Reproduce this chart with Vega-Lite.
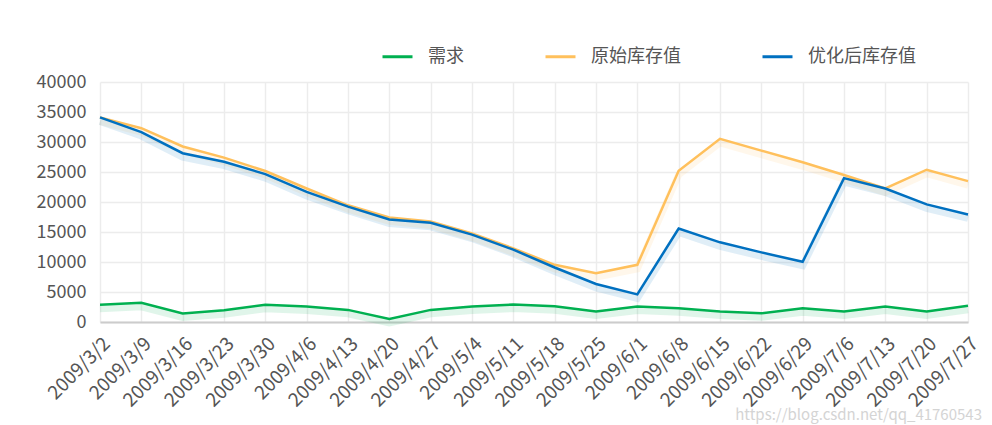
{
  "$schema": "https://vega.github.io/schema/vega-lite/v6.json",
  "width": 868,
  "height": 240,
  "autosize": "none",
  "padding": {"left": 100, "top": 82, "right": 24, "bottom": 103},
  "background": "#ffffff",
  "config": {
    "view": {"stroke": null},
    "font": "Noto Sans CJK SC"
  },
  "title": {
    "text": "https://blog.csdn.net/qq_41760543",
    "orient": "bottom",
    "anchor": "end",
    "fontSize": 15,
    "fontWeight": "normal",
    "color": "#d4d4d4",
    "offset": -2
  },
  "data": {
    "values": [
      {"date": "2009/3/2", "series": "需求", "value": 2860},
      {"date": "2009/3/9", "series": "需求", "value": 3190},
      {"date": "2009/3/16", "series": "需求", "value": 1410},
      {"date": "2009/3/23", "series": "需求", "value": 1970},
      {"date": "2009/3/30", "series": "需求", "value": 2860},
      {"date": "2009/4/6", "series": "需求", "value": 2580},
      {"date": "2009/4/13", "series": "需求", "value": 2020},
      {"date": "2009/4/20", "series": "需求", "value": 500},
      {"date": "2009/4/27", "series": "需求", "value": 2020},
      {"date": "2009/5/4", "series": "需求", "value": 2580},
      {"date": "2009/5/11", "series": "需求", "value": 2920},
      {"date": "2009/5/18", "series": "需求", "value": 2640},
      {"date": "2009/5/25", "series": "需求", "value": 1750},
      {"date": "2009/6/1", "series": "需求", "value": 2580},
      {"date": "2009/6/8", "series": "需求", "value": 2300},
      {"date": "2009/6/15", "series": "需求", "value": 1750},
      {"date": "2009/6/22", "series": "需求", "value": 1460},
      {"date": "2009/6/29", "series": "需求", "value": 2300},
      {"date": "2009/7/6", "series": "需求", "value": 1750},
      {"date": "2009/7/13", "series": "需求", "value": 2580},
      {"date": "2009/7/20", "series": "需求", "value": 1750},
      {"date": "2009/7/27", "series": "需求", "value": 2690},
      {"date": "2009/3/2", "series": "原始库存值", "value": 34100},
      {"date": "2009/3/9", "series": "原始库存值", "value": 32300},
      {"date": "2009/3/16", "series": "原始库存值", "value": 29250},
      {"date": "2009/3/23", "series": "原始库存值", "value": 27400},
      {"date": "2009/3/30", "series": "原始库存值", "value": 25160},
      {"date": "2009/4/6", "series": "原始库存值", "value": 22250},
      {"date": "2009/4/13", "series": "原始库存值", "value": 19450},
      {"date": "2009/4/20", "series": "原始库存值", "value": 17430},
      {"date": "2009/4/27", "series": "原始库存值", "value": 16760},
      {"date": "2009/5/4", "series": "原始库存值", "value": 14740},
      {"date": "2009/5/11", "series": "原始库存值", "value": 12270},
      {"date": "2009/5/18", "series": "原始库存值", "value": 9530},
      {"date": "2009/5/25", "series": "原始库存值", "value": 8130},
      {"date": "2009/6/1", "series": "原始库存值", "value": 9530},
      {"date": "2009/6/8", "series": "原始库存值", "value": 25210},
      {"date": "2009/6/15", "series": "原始库存值", "value": 30540},
      {"date": "2009/6/22", "series": "原始库存值", "value": 28570},
      {"date": "2009/6/29", "series": "原始库存值", "value": 26620},
      {"date": "2009/7/6", "series": "原始库存值", "value": 24490},
      {"date": "2009/7/13", "series": "原始库存值", "value": 22250},
      {"date": "2009/7/20", "series": "原始库存值", "value": 25380},
      {"date": "2009/7/27", "series": "原始库存值", "value": 23480},
      {"date": "2009/3/2", "series": "优化后库存值", "value": 34100},
      {"date": "2009/3/9", "series": "优化后库存值", "value": 31660},
      {"date": "2009/3/16", "series": "优化后库存值", "value": 28130},
      {"date": "2009/3/23", "series": "优化后库存值", "value": 26720},
      {"date": "2009/3/30", "series": "优化后库存值", "value": 24650},
      {"date": "2009/4/6", "series": "优化后库存值", "value": 21680},
      {"date": "2009/4/13", "series": "优化后库存值", "value": 19220},
      {"date": "2009/4/20", "series": "优化后库存值", "value": 17090},
      {"date": "2009/4/27", "series": "优化后库存值", "value": 16540},
      {"date": "2009/5/4", "series": "优化后库存值", "value": 14570},
      {"date": "2009/5/11", "series": "优化后库存值", "value": 12050},
      {"date": "2009/5/18", "series": "优化后库存值", "value": 9080},
      {"date": "2009/5/25", "series": "优化后库存值", "value": 6340},
      {"date": "2009/6/1", "series": "优化后库存值", "value": 4600},
      {"date": "2009/6/8", "series": "优化后库存值", "value": 15580},
      {"date": "2009/6/15", "series": "优化后库存值", "value": 13280},
      {"date": "2009/6/22", "series": "优化后库存值", "value": 11600},
      {"date": "2009/6/29", "series": "优化后库存值", "value": 10030},
      {"date": "2009/7/6", "series": "优化后库存值", "value": 23980},
      {"date": "2009/7/13", "series": "优化后库存值", "value": 22250},
      {"date": "2009/7/20", "series": "优化后库存值", "value": 19610},
      {"date": "2009/7/27", "series": "优化后库存值", "value": 17930}
    ]
  },
  "encoding": {
    "x": {
      "field": "date",
      "type": "ordinal",
      "sort": null,
      "scale": {"type": "point", "padding": 0},
      "axis": {
        "title": null,
        "labelAngle": -45,
        "labelFontSize": 19,
        "labelColor": "#555555",
        "labelPadding": 12,
        "grid": true,
        "gridColor": "#ececec",
        "gridWidth": 1.5,
        "ticks": false,
        "domainColor": "#cccccc",
        "domainWidth": 2
      }
    },
    "y": {
      "field": "value",
      "type": "quantitative",
      "scale": {"domain": [0, 40000]},
      "axis": {
        "title": null,
        "values": [0, 5000, 10000, 15000, 20000, 25000, 30000, 35000, 40000],
        "format": "d",
        "labelFontSize": 18,
        "labelColor": "#555555",
        "labelPadding": 14,
        "grid": true,
        "gridColor": "#ececec",
        "gridWidth": 1.5,
        "ticks": false,
        "domain": false
      }
    },
    "order": {"field": "series"}
  },
  "layer": [
    {
      "mark": {"type": "line", "strokeWidth": 7, "opacity": 0.12, "yOffset": 4},
      "encoding": {
        "color": {
          "field": "series",
          "type": "nominal",
          "scale": {
            "domain": ["需求", "原始库存值", "优化后库存值"],
            "range": ["#00b050", "#ffc05c", "#0070c0"]
          },
          "legend": null
        }
      }
    },
    {
      "mark": {"type": "line", "strokeWidth": 2.5},
      "encoding": {
        "color": {
          "field": "series",
          "type": "nominal",
          "scale": {
            "domain": ["需求", "原始库存值", "优化后库存值"],
            "range": ["#00b050", "#ffc05c", "#0070c0"]
          },
          "legend": {
            "title": null,
            "orient": "none",
            "direction": "horizontal",
            "legendX": 281,
            "legendY": -42,
            "symbolType": "stroke",
            "symbolSize": 900,
            "symbolStrokeWidth": 3,
            "symbolOpacity": 1,
            "labelFontSize": 18,
            "labelColor": "#555555",
            "labelOffset": 14,
            "columnPadding": 75
          }
        }
      }
    }
  ],
  "resolve": {"scale": {"color": "independent"}, "legend": {"color": "independent"}}
}
